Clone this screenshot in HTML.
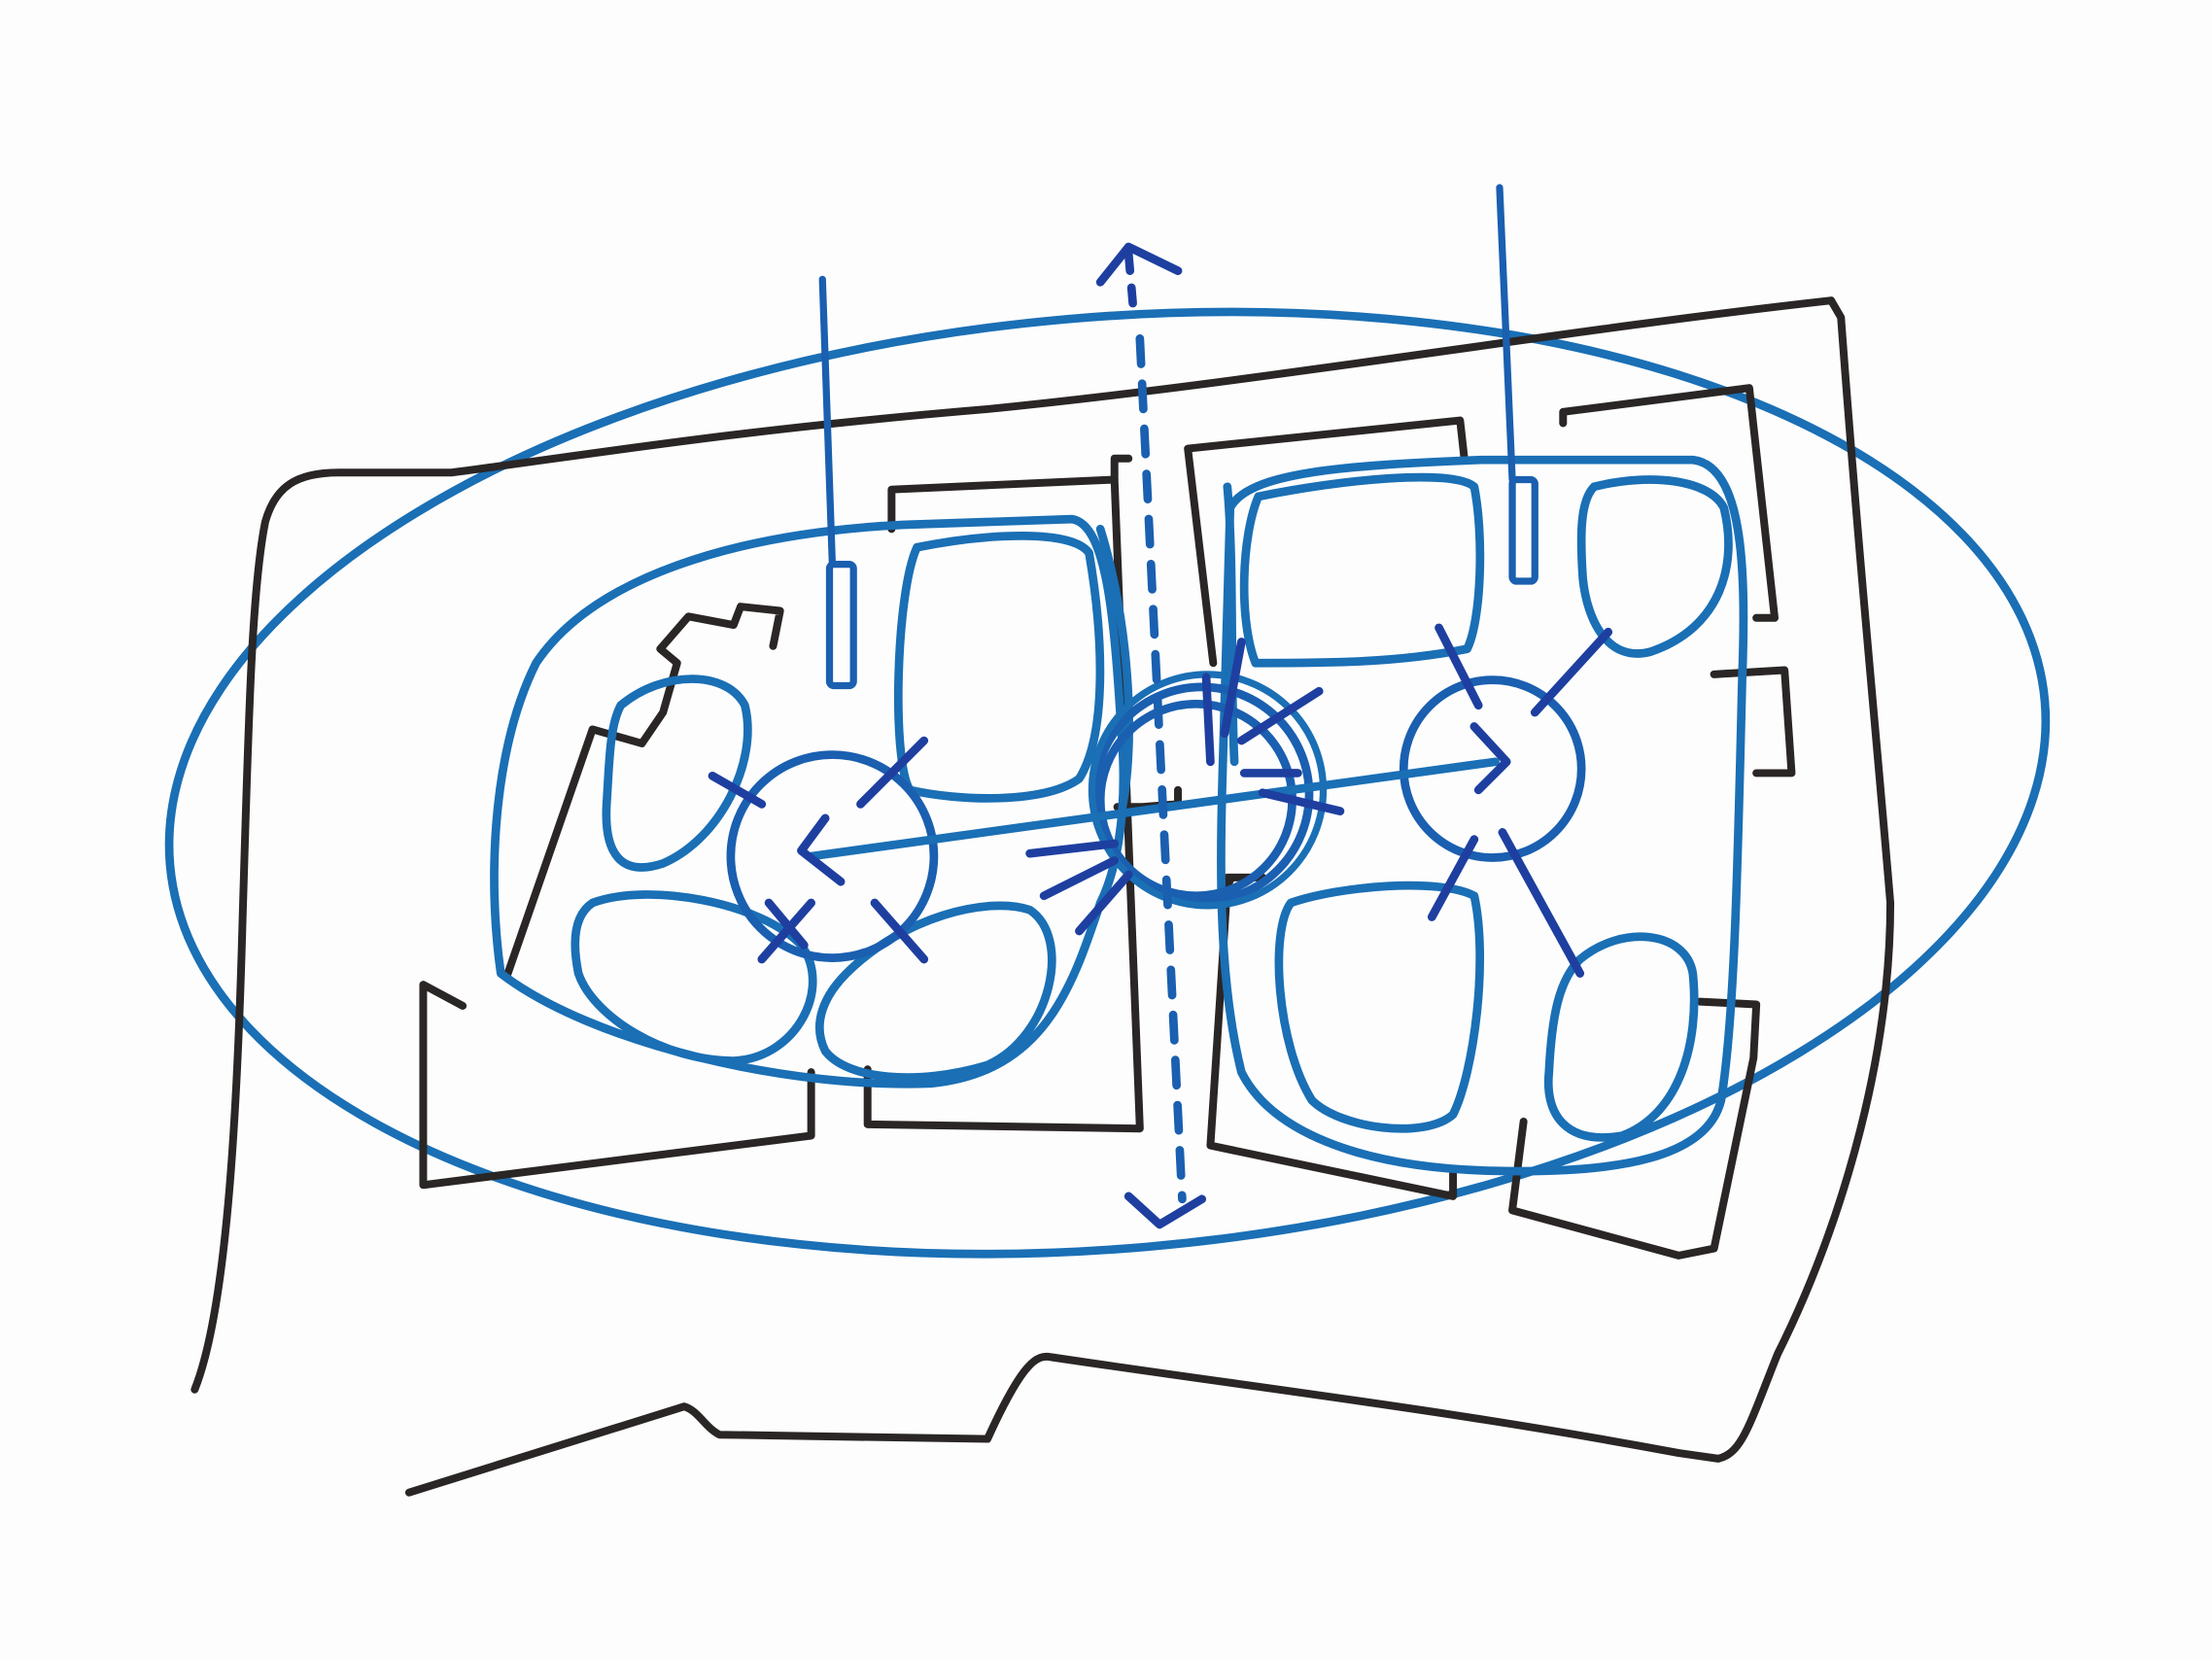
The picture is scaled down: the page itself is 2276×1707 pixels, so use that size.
<!DOCTYPE html>
<html><head><meta charset="utf-8"><style>html,body{margin:0;padding:0;background:#fdfdfd;}svg{display:block}</style></head>
<body>
<svg width="2276" height="1707" viewBox="0 0 1568 1176" preserveAspectRatio="none" xmlns="http://www.w3.org/2000/svg">
<rect width="1568" height="1176" fill="#fdfdfd"/>
<g fill="none" stroke-linecap="round" stroke-linejoin="round">
<ellipse cx="785" cy="555" rx="667" ry="330" transform="rotate(-5 785 555)" stroke="#1a6fb5" stroke-width="6"/>
<g stroke="#2a2626" stroke-width="5.5">
<path d="M138,985 C160,930 168,800 172,650 C176,520 178,420 188,370 C195,345 210,335 240,335 L320,335 C420,322 520,305 700,290 C900,270 1100,235 1298,213 L1305,225 C1318,400 1330,520 1340,640 C1340,760 1300,880 1260,960 C1240,1010 1235,1030 1218,1034 L1190,1030 C1030,1000 900,985 745,962 C735,960 725,965 700,1020 L510,1017 C500,1012 495,1000 485,997 L290,1058"/>
<path d="M328,713 L300,698 L300,840 L575,805 L575,760"/>
<path d="M360,690 L420,517 L455,527 L470,505 L480,470 L468,460 L488,437 L520,443 L525,430 L553,433 L548,458"/>
<path d="M632,375 L632,347 L790,340 L808,800 L615,797 L615,758"/>
<path d="M790,340 L790,325 L800,325"/>
<path d="M860,470 L842,318 L1035,298 L1038,325"/>
<path d="M792,572 L810,572 L835,570 L835,560"/>
<path d="M872,624 L870,628 L858,812 L1030,848 L1030,830"/>
<path d="M870,622 L895,622"/>
<path d="M1108,300 L1108,292 L1240,275 L1258,438 L1245,438"/>
<path d="M1215,478 L1265,475 L1270,548 L1245,548"/>
<path d="M1205,710 L1245,712 L1243,750 L1215,885 L1190,890 L1072,858 L1080,795"/>
</g>
<g stroke="#1a6fb5" stroke-width="6">
<path d="M355,690 C345,620 350,530 380,470 C420,410 520,378 640,372 L760,368 C785,372 790,440 795,520 C800,580 790,620 780,640 C760,700 740,760 660,768 C560,772 420,740 355,690 Z"/>
<path d="M872,360 C885,335 950,330 1050,326 L1200,326 C1235,330 1238,400 1235,480 C1232,600 1230,720 1220,780 C1210,820 1150,832 1060,830 C960,828 900,800 880,760 C860,680 866,580 868,500 Z"/>
<path d="M650,388 C700,378 760,375 772,392 C782,450 785,520 765,552 C740,570 680,568 645,560 C632,540 635,420 650,388 Z"/>
<path d="M892,352 C950,340 1030,332 1045,345 C1052,380 1050,440 1040,460 C990,470 940,470 890,470 C878,440 880,380 892,352 Z"/>
<path d="M1130,345 C1170,335 1212,340 1222,360 C1232,400 1220,445 1170,462 C1140,470 1125,440 1122,410 C1120,380 1120,355 1130,345 Z"/>
<path d="M915,640 C950,628 1020,622 1045,635 C1055,680 1045,760 1030,790 C1010,808 950,800 930,780 C905,740 900,660 915,640 Z"/>
<path d="M1120,680 C1150,655 1195,660 1200,690 C1205,740 1190,790 1150,805 C1110,812 1095,790 1098,760 C1100,720 1105,695 1120,680 Z"/>
<path d="M440,500 C470,475 515,475 528,500 C538,540 510,595 470,612 C440,622 428,605 430,570 C432,540 432,515 440,500 Z"/>
<path d="M420,640 C460,625 540,640 568,670 C590,700 565,750 520,752 C470,752 420,720 410,690 C405,665 408,648 420,640 Z"/>
<path d="M600,690 C640,650 700,635 730,645 C760,665 745,735 700,755 C650,770 600,765 585,745 C575,725 585,705 600,690 Z"/>
<path d="M870,345 C875,400 872,480 875,540"/>
<path d="M780,375 C800,440 805,520 796,570"/>
</g>
<g stroke="#1a5fb0" stroke-width="6">
<circle cx="590" cy="607" r="72"/>
<circle cx="1058" cy="545" r="63"/>
<circle cx="852" cy="563" r="76"/>
<circle cx="848" cy="567" r="68"/>
<circle cx="856" cy="560" r="82" stroke="#1a6fb5" stroke-width="5"/>
</g>
<g stroke="#1a5fb0" stroke-width="5">
<path d="M583,198 L590,400"/>
<rect x="588" y="400" width="17" height="86" rx="3"/>
<path d="M1063,133 L1072,340"/>
<rect x="1072" y="340" width="16" height="72" rx="3"/>
</g>
<g stroke="#1e3fa0" stroke-width="6">
<path d="M575,607 L1060,540" stroke="#1a6fb5"/>
<path d="M585,580 L568,603 L596,625"/>
<path d="M1045,515 L1068,540 L1048,560"/>
<path d="M780,200 L800,175 L835,192"/>
<path d="M800,180 L803,215" stroke-dasharray="12 12"/>
<path d="M808,240 L838,850" stroke-dasharray="18 14" stroke="#1a5fb0"/>
<path d="M800,848 L822,868 L852,850"/>
<path d="M505,550 L540,570"/><path d="M610,570 L655,525"/>
<path d="M545,640 L570,670"/><path d="M540,680 L575,640"/>
<path d="M620,640 L655,680"/>
<path d="M1020,445 L1048,500"/><path d="M1088,505 L1140,448"/>
<path d="M1015,650 L1045,595"/><path d="M1065,590 L1120,690"/>
<path d="M855,480 L858,540"/><path d="M880,455 L868,520"/><path d="M935,490 L880,525"/>
<path d="M882,548 L920,548"/><path d="M895,562 L950,575"/>
<path d="M730,605 L790,598"/><path d="M740,635 L790,610"/>
<path d="M765,660 L800,620"/>
</g>
</g>
</svg>
</body></html>
